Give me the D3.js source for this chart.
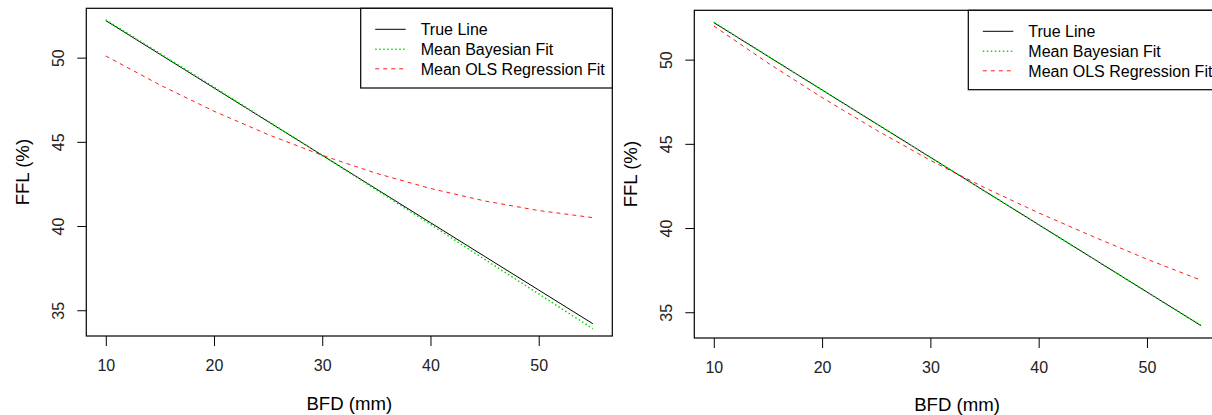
<!DOCTYPE html>
<html>
<head>
<meta charset="utf-8">
<script src="https://cdn.jsdelivr.net/npm/d3@7/dist/d3.min.js"></script>
<style>
  html, body { margin: 0; padding: 0; background: #fff; }
  svg { display: block; font-family: "Liberation Sans", Arial, sans-serif; }
</style>
</head>
<body>
<svg id="chart" width="1212" height="415"></svg>
<script>
// ---- data ----
const xTicks = [10, 20, 30, 40, 50];
const yTicks = [35, 40, 45, 50];
const xLabel = "BFD (mm)";
const yLabel = "FFL (%)";
const legendLabels = ["True Line", "Mean Bayesian Fit", "Mean OLS Regression Fit"];

const bfd = [10, 15, 20, 25, 30, 35, 40, 45, 50, 55];

// Left panel
const trueLeft  = [52.2, 50.2, 48.2, 46.2, 44.2, 42.2, 40.2, 38.2, 36.2, 34.2];
const bayesLeft = [52.25, 50.25, 48.25, 46.22, 44.2, 42.15, 40.1, 38.02, 35.97, 33.9];
const olsLeft   = [50.1, 48.38, 46.82, 45.43, 44.2, 43.13, 42.23, 41.49, 40.92, 40.5];

// Right panel
const trueRight  = [52.2, 50.2, 48.2, 46.2, 44.2, 42.2, 40.2, 38.2, 36.2, 34.2];
const bayesRight = [52.22, 50.21, 48.2, 46.2, 44.2, 42.2, 40.2, 38.2, 36.2, 34.22];
const olsRight   = [52.0, 49.8, 47.75, 45.82, 44.02, 42.4, 40.9, 39.5, 38.15, 36.9];

// ---- drawing ----
const svg = d3.select("#chart");
const xDomain = [8.2, 56.8];
const yDomain = [33.47, 52.93];

const panels = [
  { left: 86.3, right: 612.3, top: 8.3, bottom: 336, titleX: 349.3, titleY: 403.5,
    series: [trueLeft, bayesLeft, olsLeft], legendLeft: 360.7, legendBottom: 88 },
  { left: 694.3, right: 1220.6, top: 10.3, bottom: 338, titleX: 957, titleY: 404,
    series: [trueRight, bayesRight, olsRight], legendLeft: 968.3, legendBottom: 89.7 }
];

const styles = [
  { stroke: "#000000", dash: null, width: 1 },
  { stroke: "#00e000", dash: "1.5,2.5", width: 1.5 },
  { stroke: "#ff1a1a", dash: "4,4", width: 1 }
];

const tickFs = 16, titleFs = 18.6, legFs = 16;
const ff = "Liberation Sans, Arial, sans-serif";

panels.forEach(p => {
  const x = d3.scaleLinear().domain(xDomain).range([p.left, p.right]);
  const y = d3.scaleLinear().domain(yDomain).range([p.bottom, p.top]);
  const g = svg.append("g");

  // lines
  const line = d3.line().x((d, i) => x(bfd[i])).y(d => y(d));
  p.series.forEach((s, k) => {
    g.append("path")
      .datum(s)
      .attr("d", line)
      .attr("fill", "none")
      .attr("stroke", styles[k].stroke)
      .attr("stroke-width", styles[k].width)
      .attr("stroke-dasharray", styles[k].dash);
  });

  // x axis
  const xa = g.append("g")
    .attr("transform", `translate(0,${p.bottom})`)
    .call(d3.axisBottom(x).tickValues(xTicks).tickSize(10).tickSizeOuter(0).tickFormat(d3.format("d")));
  xa.attr("font-size", tickFs).attr("font-family", ff);
  xa.select(".domain").remove();
  xa.selectAll(".tick line").attr("stroke", "#000");
  xa.selectAll(".tick text")
    .attr("y", 29.5 + 0.358 * tickFs).attr("dy", null)
    .style("font-size", tickFs + "px").attr("fill", "#222");

  // y axis
  const ya = g.append("g")
    .attr("transform", `translate(${p.left},0)`)
    .call(d3.axisLeft(y).tickValues(yTicks).tickSize(9).tickSizeOuter(0).tickFormat(d3.format("d")));
  ya.attr("font-size", tickFs).attr("font-family", ff);
  ya.select(".domain").remove();
  ya.selectAll(".tick line").attr("stroke", "#000");
  ya.selectAll(".tick text")
    .attr("x", null).attr("dy", null)
    .attr("text-anchor", "middle")
    .attr("transform", `translate(${-28 + 0.358 * tickFs},0) rotate(-90)`)
    .style("font-size", tickFs + "px").attr("fill", "#222");

  // box
  g.append("rect")
    .attr("x", p.left).attr("y", p.top)
    .attr("width", p.right - p.left).attr("height", p.bottom - p.top)
    .attr("fill", "none").attr("stroke", "#000").attr("stroke-width", 1.2);

  // axis titles
  g.append("text")
    .attr("x", p.titleX)
    .attr("y", p.titleY + 0.358 * titleFs)
    .attr("text-anchor", "middle")
    .attr("font-size", titleFs).attr("fill", "#000")
    .text(xLabel);
  const cy = (p.top + p.bottom) / 2;
  g.append("text")
    .attr("transform", `translate(${p.left - 63.8 + 0.358 * titleFs},${cy}) rotate(-90)`)
    .attr("text-anchor", "middle")
    .attr("font-size", titleFs).attr("fill", "#000")
    .text(yLabel);

  // legend
  g.append("rect")
    .attr("x", p.legendLeft).attr("y", p.top)
    .attr("width", p.right - p.legendLeft).attr("height", p.legendBottom - p.top)
    .attr("fill", "#fff").attr("stroke", "#000").attr("stroke-width", 1.2);
  const rowY = [p.top + 21, p.top + 41, p.top + 60.5];
  legendLabels.forEach((lab, k) => {
    g.append("line")
      .attr("x1", p.legendLeft + 14.5).attr("x2", p.legendLeft + 45)
      .attr("y1", rowY[k]).attr("y2", rowY[k])
      .attr("stroke", styles[k].stroke)
      .attr("stroke-width", styles[k].width)
      .attr("stroke-dasharray", styles[k].dash);
    g.append("text")
      .attr("x", p.legendLeft + 60)
      .attr("y", rowY[k] + 0.358 * legFs)
      .attr("font-size", legFs).attr("fill", "#000")
      .text(lab);
  });
});
</script>
</body>
</html>
